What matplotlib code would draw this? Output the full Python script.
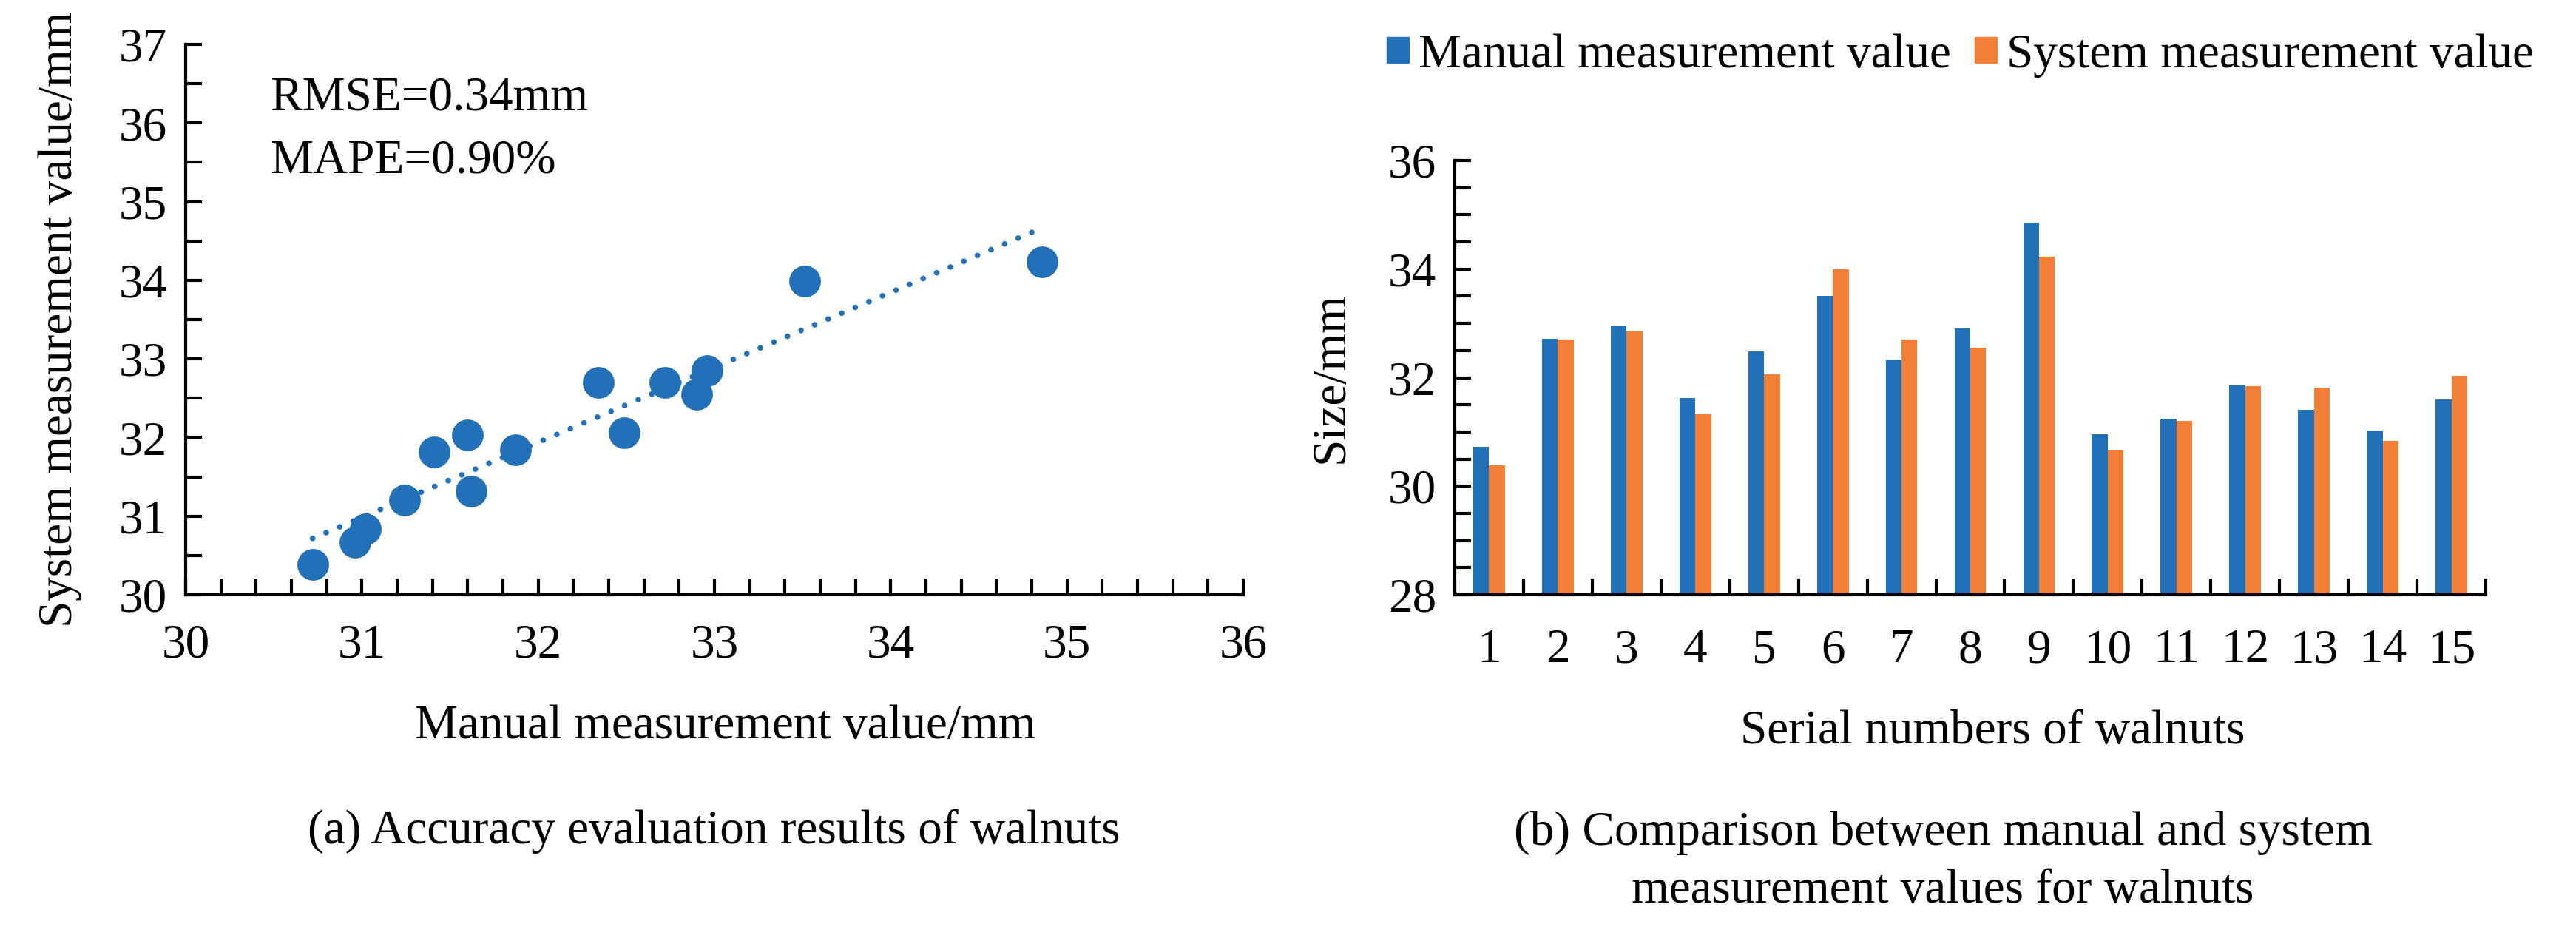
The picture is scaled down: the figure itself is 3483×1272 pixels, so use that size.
import numpy as np
import matplotlib
matplotlib.use("Agg")
import matplotlib.pyplot as plt
from matplotlib.patches import Patch
from matplotlib.ticker import MultipleLocator

# ── Data ──────────────────────────────────────────────────────
walnut_ids = list(range(1, 16))
manual_mm = [30.72, 32.72, 32.96, 31.62, 32.49, 33.51, 32.34, 32.90,
             34.86, 30.96, 31.24, 31.87, 31.41, 31.02, 31.60]
system_mm = [30.39, 32.70, 32.85, 31.32, 32.06, 33.99, 32.70, 32.55,
             34.23, 30.67, 31.20, 31.84, 31.82, 30.84, 32.03]
metrics_text = ["RMSE=0.34mm", "MAPE=0.90%"]

BLUE = "#2271B8"
ORANGE = "#F27F35"
FS = 47

plt.rcParams["font.family"] = ["Liberation Serif", "DejaVu Serif"]
plt.rcParams["font.size"] = FS

fig = plt.figure(figsize=(34.83, 12.72), dpi=100)
W, H = 3483, 1272


def axes_px(left, top, right, bottom):
    return fig.add_axes([left / W, 1 - bottom / H, (right - left) / W, (bottom - top) / H])


def style_axes(ax):
    for s in ["top", "right"]:
        ax.spines[s].set_visible(False)
    for s in ["left", "bottom"]:
        ax.spines[s].set_linewidth(3)
        ax.spines[s].set_color("black")


# ── (a) scatter ───────────────────────────────────────────────
ax1 = axes_px(251, 60, 1681, 804)
style_axes(ax1)
ax1.scatter(manual_mm, system_mm, s=950, color=BLUE, zorder=3, linewidths=0)
k, b = np.polyfit(manual_mm, system_mm, 1)
xs = np.array([min(manual_mm), max(manual_mm)])
ax1.plot(xs, k * xs + b, color=BLUE, lw=5.5, linestyle=(0, (0.01, 2.6)),
         dash_capstyle="round", zorder=2)
ax1.set_xlim(30, 36)
ax1.set_ylim(30, 37)
ax1.xaxis.set_major_locator(MultipleLocator(1))
ax1.xaxis.set_minor_locator(MultipleLocator(0.2))
ax1.yaxis.set_major_locator(MultipleLocator(1))
ax1.yaxis.set_minor_locator(MultipleLocator(0.5))
ax1.tick_params(which="both", direction="in", length=16, width=3)
ax1.tick_params(axis="x", which="major", pad=28)
ax1.tick_params(axis="y", which="major", pad=18)
ax1.set_xlabel("Manual measurement value/mm", labelpad=36)
ax1.xaxis.label.set_x(0.51)
ax1.set_ylabel("System measurement value/mm", labelpad=36)
for i, t in enumerate(metrics_text):
    ax1.text(0.080, 0.902 - i * 0.114, t, transform=ax1.transAxes,
             ha="left", va="center")

# ── (b) grouped bars ──────────────────────────────────────────
ax2 = axes_px(1967, 217, 3361, 804)
style_axes(ax2)
x = np.arange(len(walnut_ids))
bw = 0.23
ax2.bar(x - bw / 2, manual_mm, width=bw, color=BLUE, zorder=2)
ax2.bar(x + bw / 2, system_mm, width=bw, color=ORANGE, zorder=2)
ax2.set_xlim(-0.5, len(walnut_ids) - 0.5)
ax2.set_ylim(28, 36)
ax2.set_xticks(x)
ax2.set_xticklabels([str(i) for i in walnut_ids])
ax2.set_xticks(np.arange(-0.5, len(walnut_ids)), minor=True)
ax2.yaxis.set_major_locator(MultipleLocator(2))
ax2.yaxis.set_minor_locator(MultipleLocator(0.5))
ax2.tick_params(which="both", direction="in", width=3, length=16)
ax2.tick_params(axis="x", which="major", length=11, pad=33)
ax2.tick_params(axis="y", which="major", pad=18)
ax2.set_xlabel("Serial numbers of walnuts", labelpad=36)
ax2.xaxis.label.set_x(0.5215)
ax2.set_ylabel("Size/mm", labelpad=34)

fig.legend(handles=[Patch(color=BLUE), Patch(color=ORANGE)],
           labels=["Manual measurement value", "System measurement value"],
           loc="center", bbox_to_anchor=(0.761, 0.941), ncol=2, frameon=False,
           handlelength=0.45, handleheight=0.45, handletextpad=0.2,
           columnspacing=0.5)

# ── captions ──────────────────────────────────────────────────
fig.text(965 / W, 1 - 1124 / H, "(a) Accuracy evaluation results of walnuts",
         ha="center", va="center")
fig.text(2627 / W, 1 - 1165 / H,
         "(b) Comparison between manual and system\nmeasurement values for walnuts",
         ha="center", va="center", linespacing=1.4)

fig.savefig("out.png", dpi=100)
